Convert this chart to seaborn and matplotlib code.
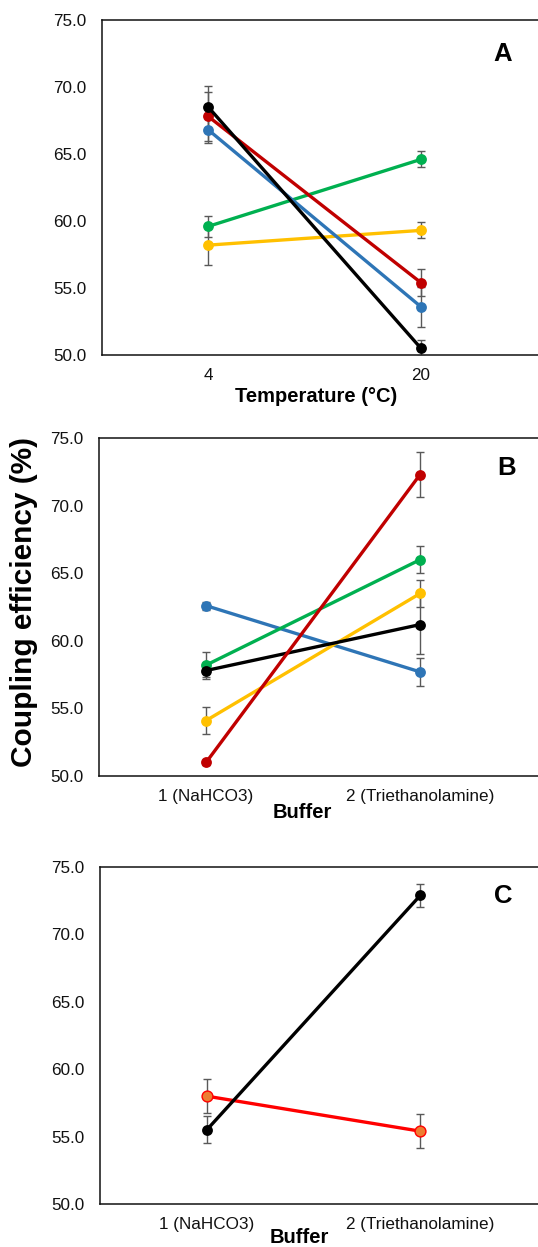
import numpy as np
import pandas as pd
import matplotlib
matplotlib.use('Agg')
import matplotlib.pyplot as plt
import seaborn as sns

# category labels
temp_labels = ['4', '20']
buffer_labels = ['1 (NaHCO3)', '2 (Triethanolamine)']

# panel A (temperature)
a_yellow = [58.2, 59.3]
a_yellow_err = [1.5, 0.6]
a_green = [59.6, 64.6]
a_green_err = [0.8, 0.6]
a_blue = [66.8, 53.6]
a_blue_err = [1.0, 1.5]
a_red = [67.8, 55.4]
a_red_err = [1.8, 1.0]
a_black = [68.5, 50.5]
a_black_err = [1.6, 0.6]

# panel B (buffer)
b_yellow = [54.1, 63.5]
b_yellow_err = [1.0, 1.0]
b_green = [58.2, 66.0]
b_green_err = [1.0, 1.0]
b_blue = [62.6, 57.7]
b_blue_err = [0.3, 1.05]
b_red = [51.0, 72.3]
b_red_err = [0.15, 1.7]
b_black = [57.8, 61.2]
b_black_err = [0.5, 2.2]

# panel C (buffer)
c_black = [55.5, 72.9]
c_black_err = [1.0, 0.85]
c_orange = [58.0, 55.4]
c_orange_err = [1.25, 1.25]

colors = {'yellow': '#FFC000', 'green': '#00B050', 'blue': '#2E75B6',
          'red': '#C00000', 'black': '#000000'}

sns.set_style('white')
plt.rcParams['font.family'] = ['Liberation Sans', 'DejaVu Sans']
plt.rcParams['text.color'] = 'black'
plt.rcParams['axes.labelcolor'] = 'black'

W, H = 538, 1247
fig = plt.figure(figsize=(W / 100, H / 100), dpi=100)


def make_ax(left, top, bottom):
    # pixel box -> figure fraction, right edge runs past the image like the original
    return fig.add_axes([left / W, 1 - bottom / H, (W + 2 - left) / W, (bottom - top) / H])


def series_frame(series):
    rows = []
    for name, vals, errs in series:
        for i, (v, e) in enumerate(zip(vals, errs)):
            rows.append({'series': name, 'pos': i, 'value': v, 'err': e})
    return pd.DataFrame(rows)


def draw_panel(ax, df, palette, order):
    for name in order:
        d = df[df['series'] == name]
        ax.errorbar(d['pos'], d['value'], yerr=d['err'], fmt='none', ecolor='#595959',
                    elinewidth=1.0, capsize=3, capthick=1.0, zorder=1)
    sns.lineplot(data=df, x='pos', y='value', hue='series', hue_order=order,
                 palette=palette, marker='o', markersize=7.8, markeredgewidth=0,
                 linewidth=2.4, legend=False, ax=ax, zorder=3)


def style_axes(ax, labels, xlabel, lx, ly, mid_tick):
    ax.set_ylim(50, 75)
    ax.set_yticks(np.arange(50, 75.1, 5))
    ax.set_yticklabels([f'{v:.1f}' for v in np.arange(50, 75.1, 5)])
    ax.set_xlim(-0.5, 1.56)
    ax.set_xticks([0, 1])
    ax.set_xticklabels(labels)
    ax.tick_params(axis='both', which='major', length=0, labelsize=12.3, labelcolor='#111111')
    ax.tick_params(axis='y', pad=11)
    ax.tick_params(axis='x', pad=9)
    if mid_tick:
        ax.set_xticks([0.5], minor=True)
        ax.tick_params(axis='x', which='minor', direction='in', length=4, width=1, color='#222222')
    ax.set_xlabel(xlabel, fontsize=14.5, fontweight='bold', va='center')
    ax.xaxis.set_label_coords(lx, ly)
    ax.set_ylabel('')
    for s in ['top', 'left', 'bottom']:
        ax.spines[s].set_color('#111111')
        ax.spines[s].set_linewidth(1.1)
    ax.spines['right'].set_visible(False)


# panel A
axA = make_ax(102, 20, 355)
dfA = series_frame([('yellow', a_yellow, a_yellow_err), ('green', a_green, a_green_err),
                    ('blue', a_blue, a_blue_err), ('red', a_red, a_red_err),
                    ('black', a_black, a_black_err)])
draw_panel(axA, dfA, colors, ['yellow', 'green', 'blue', 'red', 'black'])
style_axes(axA, temp_labels, 'Temperature (°C)', 0.489, -0.125, False)

# panel B
axB = make_ax(99, 438, 776)
dfB = series_frame([('yellow', b_yellow, b_yellow_err), ('green', b_green, b_green_err),
                    ('blue', b_blue, b_blue_err), ('red', b_red, b_red_err),
                    ('black', b_black, b_black_err)])
draw_panel(axB, dfB, colors, ['blue', 'yellow', 'green', 'black', 'red'])
style_axes(axB, buffer_labels, 'Buffer', 0.462, -0.107, True)

# panel C
axC = make_ax(100, 867, 1204)
dfC = series_frame([('orange', c_orange, c_orange_err), ('black', c_black, c_black_err)])
for name in ['orange', 'black']:
    d = dfC[dfC['series'] == name]
    axC.errorbar(d['pos'], d['value'], yerr=d['err'], fmt='none', ecolor='#595959',
                 elinewidth=1.0, capsize=3, capthick=1.0, zorder=1)
sns.lineplot(data=dfC[dfC['series'] == 'orange'], x='pos', y='value', color='#FF0000',
             marker='o', markersize=7.8, markerfacecolor='#ED7D31', markeredgecolor='#FF0000',
             markeredgewidth=1.0, linewidth=2.4, legend=False, ax=axC, zorder=3)
sns.lineplot(data=dfC[dfC['series'] == 'black'], x='pos', y='value', color='black',
             marker='o', markersize=7.8, markeredgewidth=0, linewidth=2.4,
             legend=False, ax=axC, zorder=4)
style_axes(axC, buffer_labels, 'Buffer', 0.454, -0.10, True)

# panel letters and shared y label
fig.text(503 / W, 1 - 54 / H, 'A', fontsize=18.5, fontweight='bold', ha='center', va='center')
fig.text(507 / W, 1 - 468 / H, 'B', fontsize=18.5, fontweight='bold', ha='center', va='center')
fig.text(503 / W, 1 - 896 / H, 'C', fontsize=18.5, fontweight='bold', ha='center', va='center')
fig.text(24 / W, 1 - 602 / H, 'Coupling efficiency (%)', fontsize=21.5, fontweight='bold',
         rotation=90, ha='center', va='center')

fig.savefig('out.png', dpi=100)
